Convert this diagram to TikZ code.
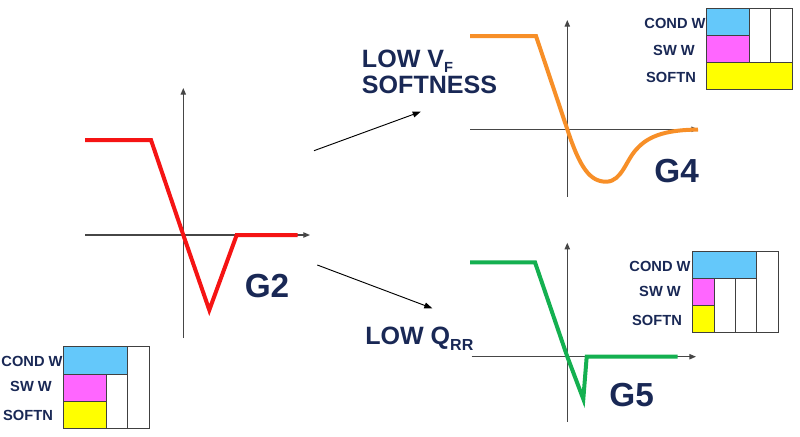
\documentclass[tikz,border=0pt]{standalone}
\usepackage{fontspec}
\setmainfont{Liberation Sans}
\usetikzlibrary{arrows.meta}
\definecolor{navy}{RGB}{25,40,85}
\definecolor{cyanb}{RGB}{100,200,250}
\definecolor{magb}{RGB}{255,102,255}
\definecolor{yelb}{RGB}{255,255,0}
\definecolor{orangec}{RGB}{247,143,40}
\definecolor{greenc}{RGB}{20,176,80}
\definecolor{redc}{RGB}{245,20,20}
\definecolor{axisc}{RGB}{70,70,70}
\begin{document}
\begin{tikzpicture}[x=0.75pt,y=-0.75pt,
  axis/.style={draw=axisc, line width=0.9pt, -{Triangle[length=5pt,width=4pt]}},
  conn/.style={draw=black, line width=0.7pt, -{Triangle[length=6pt,width=4.5pt]}},
  curve/.style={line width=3pt},
  cell/.style={draw=black!75, line width=0.6pt},
  lbl/.style={text=navy, font=\fontsize{11}{12}\selectfont\bfseries, inner sep=0pt},
  big/.style={text=navy, font=\fontsize{18.8}{19.5}\selectfont\bfseries, inner sep=0pt},
  glabel/.style={text=navy, font=\fontsize{25}{26}\selectfont\bfseries, inner sep=0pt}]
\useasboundingbox (0,0) rectangle (800,436);

% ---------- G2 ----------
\coordinate (g2ys) at (183.3,338); \coordinate (g2ye) at (183.3,88);
\coordinate (g2xs) at (85,235);    \coordinate (g2xe) at (310,235);
\draw[axis] (g2ys) -- (g2ye);
\draw[axis] (g2xs) -- (g2xe);
\draw[curve, redc] (85,140) -- (151,140) -- (183.3,235) -- (209.3,310) -- (236.7,235) -- (297.7,235);
\node[glabel] (g2) at (267,286) {G2};

% ---------- G4 ----------
\coordinate (g4ys) at (567.3,196.7); \coordinate (g4ye) at (567.3,20);
\coordinate (g4xs) at (470,129.3);   \coordinate (g4xe) at (698,129.3);
\draw[axis] (g4ys) -- (g4ye);
\draw[axis] (g4xs) -- (g4xe);
\draw[curve, orangec] (470,36) -- (536,36) -- (567.3,129.3)
  .. controls (580,168) and (590,182) .. (606.7,181.7)
  .. controls (622,181) and (626,160) .. (636.7,149)
  .. controls (650,134) and (670,130) .. (698,129.5);
\node[glabel] (g4) at (676.7,170.7) {G4};

% ---------- G5 ----------
\coordinate (g5ys) at (567.3,421.7); \coordinate (g5ye) at (567.3,242.7);
\coordinate (g5xs) at (471.7,356.7); \coordinate (g5xe) at (696,356.7);
\draw[axis] (g5ys) -- (g5ye);
\draw[axis] (g5xs) -- (g5xe);
\draw[curve, greenc] (470,262.3) -- (535,262.3) -- (567.3,356.7) -- (583.3,399) -- (586.7,356.7) -- (677.7,356.7);
\node[glabel] (g5) at (631.7,395) {G5};

% ---------- arrows ----------
\coordinate (a1s) at (314,150.7); \coordinate (a1e) at (420.7,111.7);
\draw[conn] (a1s) -- (a1e);
\coordinate (a2s) at (317.3,265); \coordinate (a2e) at (432.3,308.3);
\draw[conn] (a2s) -- (a2e);

\node[big, anchor=base west] (lowvf) at (361.7,67.3) {LOW V\raisebox{-3.8pt}{\fontsize{11}{12}\selectfont F}};
\node[big, anchor=base west] (soft) at (361.7,93.8) {SOFTNESS};
\node[big, anchor=base west] (lowq) at (365,344) {LOW Q\raisebox{-5pt}{\fontsize{12}{12}\selectfont RR}};

% ---------- table bottom-left ----------
\filldraw[cell, fill=cyanb] (63.3,346.7) rectangle (127.8,374);
\filldraw[cell, fill=magb] (63.3,374) rectangle (106.3,401);
\filldraw[cell, fill=yelb] (63.3,401) rectangle (106.3,428.3);
\draw[cell] (106.3,374) -- (106.3,428.3);
\draw[cell] (127.8,346.7) -- (127.8,428.3);
\draw[cell] (63.3,346.7) rectangle (149.3,428.3);
\node[lbl] (bl1) at (32,361.7) {COND W};
\node[lbl] (bl2) at (31,386.7) {SW W};
\node[lbl] (bl3) at (28,415.7) {SOFTN};

% ---------- table top-right ----------
\filldraw[cell, fill=cyanb] (706.7,8.3) rectangle (749,35);
\filldraw[cell, fill=magb] (706.7,35) rectangle (749,62.3);
\filldraw[cell, fill=yelb] (706.7,62.3) rectangle (792.7,89.3);
\draw[cell] (749,8.3) -- (749,62.3);
\draw[cell] (770.7,8.3) -- (770.7,62.3);
\draw[cell] (706.7,8.3) rectangle (792.7,89.3);
\node[lbl] (tr1) at (675,23) {COND W};
\node[lbl] (tr2) at (674,50) {SW W};
\node[lbl] (tr3) at (671,77) {SOFTN};

% ---------- table middle-right ----------
\filldraw[cell, fill=cyanb] (692.3,251) rectangle (756.7,278.3);
\filldraw[cell, fill=magb] (692.3,278.3) rectangle (714,305.7);
\filldraw[cell, fill=yelb] (692.3,305.7) rectangle (714,332.3);
\draw[cell] (735,278.3) -- (735,332.3);
\draw[cell] (756.7,251) -- (756.7,332.3);
\draw[cell] (692.3,251) rectangle (778.3,332.3);
\node[lbl] (mr1) at (660,266.7) {COND W};
\node[lbl] (mr2) at (660,291.7) {SW W};
\node[lbl] (mr3) at (657,320) {SOFTN};
\end{tikzpicture}
\end{document}
